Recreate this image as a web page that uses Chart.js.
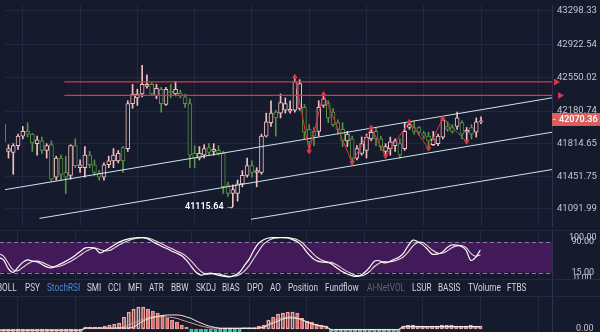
<!DOCTYPE html>
<html>
<head>
<meta charset="utf-8">
<script src="https://cdn.jsdelivr.net/npm/chart.js@4.4.1/dist/chart.umd.min.js"></script>
<style>
  html, body { margin: 0; padding: 0; }
  body { width: 600px; height: 332px; overflow: hidden; position: relative; background: #151a2c; font-family: Roboto, "Noto Sans", sans-serif; }
  canvas { position: absolute; left: 0; }
  #mainChart { top: 0; }
  #stochChart { top: 231px; }
  #macdChart { top: 297px; }
  .hline { position: absolute; left: 0; width: 600px; height: 1px; background: #232944; }
  .vline { position: absolute; left: 552px; top: 280px; width: 1px; height: 17px; background: #2c3250; }
  #tabs span { position: absolute; top: 282px; font-size: 10px; line-height: 12px; color: #d3d6e0; transform: scaleX(0.82); transform-origin: left center; white-space: nowrap; }
  #tabs .on { color: #4f86e0; }
  #tabs .dim { color: #5d6277; }
</style>
</head>
<body>
<canvas id="mainChart" width="600" height="231"></canvas>
<div class="hline" style="top:230px"></div>
<canvas id="stochChart" width="600" height="49"></canvas>
<div class="hline" style="top:279px"></div>
<div id="tabs"></div>
<div class="vline"></div>
<div class="hline" style="top:296px"></div>
<canvas id="macdChart" width="600" height="60"></canvas>
<script>
// candles (index 0 is the half-hidden one on the left edge)
const opens = [42030, 41731, 41721, 41795, 41902, 41955, 41923, 41817, 41849, 41742,
  41806, 41444, 41657, 41497, 41465, 41795, 41550, 41550, 41689, 41582,
  41486, 41444, 41582, 41625, 41625, 41774, 41763, 42264, 42328, 42371,
  42456, 42478, 42350, 42424, 42254, 42403, 42371, 42382, 42339, 42264,
  41710, 41657, 41689, 41774, 41731, 41742, 41710, 41358, 41262, 41262,
  41369, 41465, 41572, 41497, 41497, 41902, 42051, 42168, 42158, 42190,
  42179, 42190, 42211, 42222, 41977, 41955, 41955, 42243, 42264, 42168,
  42051, 41977, 41849, 41870, 41657, 41710, 41742, 41870, 41955, 41870,
  41731, 41763, 41795, 41817, 41763, 41998, 41998, 41998, 41934, 41902,
  41806, 41817, 41891, 42009, 41998, 42009, 42051, 41945, 41998, 41945,
  42062];
const highs = [42062, 41806, 41817, 41923, 42009, 42051, 41934, 41902, 41891, 41817,
  41849, 41678, 41689, 41678, 41806, 41870, 41636, 41785, 41731, 41636,
  41518, 41604, 41678, 41763, 41742, 41785, 42296, 42478, 42424, 42691,
  42584, 42499, 42478, 42446, 42446, 42478, 42510, 42414, 42371, 42318,
  41795, 41785, 41806, 41817, 41817, 41795, 41731, 41390, 41358, 41412,
  41518, 41657, 41625, 41550, 41923, 42158, 42296, 42190, 42371, 42328,
  42296, 42563, 42531, 42254, 42030, 41998, 42296, 42371, 42296, 42211,
  42083, 42051, 41955, 41902, 41795, 41891, 41923, 41998, 41998, 41902,
  41817, 41891, 41870, 41870, 42051, 42062, 42073, 42009, 41955, 41945,
  41955, 41923, 42115, 42062, 42030, 42168, 42073, 41998, 42030, 42104,
  42115];
const lows = [41657, 41657, 41476, 41753, 41870, 41891, 41731, 41689, 41710, 41657,
  41401, 41412, 41412, 41262, 41422, 41550, 41497, 41444, 41550, 41465,
  41412, 41412, 41550, 41550, 41604, 41497, 41731, 42211, 42243, 42339,
  42435, 42350, 42318, 42168, 42243, 42328, 42350, 42328, 42222, 41550,
  41550, 41636, 41657, 41689, 41689, 41689, 41262, 41230, 41115.64, 41177,
  41337, 41444, 41444, 41337, 41476, 41891, 42009, 41902, 42104, 42158,
  42158, 42168, 42190, 41870, 41742, 41795, 41902, 42222, 42051, 42009,
  41923, 41785, 41785, 41604, 41636, 41689, 41657, 41849, 41795, 41742,
  41678, 41689, 41731, 41657, 41742, 41977, 41923, 41913, 41870, 41785,
  41795, 41795, 41870, 41955, 41934, 41977, 41870, 41849, 41870, 41891,
  42041];
const closes = [41838, 41763, 41795, 41902, 41955, 41923, 41827, 41859, 41742, 41795,
  41422, 41657, 41476, 41444, 41795, 41572, 41582, 41689, 41582, 41497,
  41444, 41582, 41625, 41689, 41710, 41625, 42264, 42371, 42371, 42478,
  42478, 42371, 42435, 42264, 42424, 42382, 42424, 42350, 42264, 41689,
  41657, 41710, 41763, 41721, 41753, 41710, 41337, 41262, 41305, 41369,
  41465, 41572, 41497, 41518, 41902, 42062, 42158, 42104, 42275, 42264,
  42200, 42510, 42488, 41945, 41838, 41902, 42222, 42318, 42104, 42030,
  41977, 41849, 41923, 41657, 41763, 41817, 41891, 41945, 41870, 41785,
  41785, 41838, 41849, 41689, 41955, 42030, 41955, 41945, 41902, 41849,
  41870, 41902, 42083, 41977, 41955, 42104, 41923, 41966, 41923, 42062,
  42070.36];

const priceTicks = [43298.33, 42922.54, 42550.02, 42180.74, 41814.65, 41451.75, 41091.99];
const lastPrice = 42070.36;
const lowIndex = 48;
const lowPrice = 41115.64;

// drawn objects, in (candle index, price)
const levels = [42505, 42355];
const levelStart = 12.7;
const channels = [
  [[0.27, 41305], [114.87, 42328]],
  [[7.5, 40985], [114.87, 41945]],
  [[51.8, 40975], [114.87, 41529]]
];
const zigzagIdx = [61, 64, 67, 73, 77, 80, 85, 89, 92, 97];
const zigzagPrice = [42563, 41731, 42371, 41604, 41998, 41678, 42062, 41763, 42104, 41838];

// StochRSI
const stochK = [52, 46, 25, 16, 28, 40, 46, 43, 41, 35, 29,
  27, 32, 37, 43, 50, 58, 67, 75, 76, 74,
  63, 68, 75, 82, 89, 94, 97, 99, 100, 100,
  97, 90, 84, 78, 73, 67, 62, 56, 45, 30,
  16, 9, 12, 14, 11, 8, 6, 5, 9, 16,
  32, 48, 70, 87, 95, 99, 100, 100, 100, 99,
  95, 90, 80, 64, 52, 44, 41, 40, 37, 28,
  20, 14, 9, 6, 8, 16, 28, 43, 44, 39,
  41, 47, 52, 62, 80, 94, 90, 83, 72, 60,
  60, 64, 75, 82, 82, 79, 70, 45, 52, 70];
const stochD = [62, 55, 38, 22, 20, 28, 36, 42, 43, 40, 35,
  30, 29, 32, 37, 43, 50, 58, 66, 72, 75,
  71, 68, 69, 75, 82, 88, 93, 97, 99, 100,
  99, 95, 90, 84, 78, 73, 67, 62, 54, 43,
  30, 18, 12, 12, 13, 11, 8, 6, 7, 10,
  19, 32, 50, 68, 84, 93, 98, 100, 100, 100,
  98, 95, 88, 76, 64, 53, 46, 42, 40, 35,
  28, 20, 14, 9, 7, 10, 18, 30, 38, 42,
  41, 43, 47, 53, 65, 80, 88, 88, 80, 70,
  63, 62, 67, 75, 80, 81, 76, 62, 55, 58];
const stochTicks = [0, 15, 90, 100];
const stochBand = [15, 90];

// MACD
const macdHist = [-3, -3, -3, -3, -3, -3, -3, -3, -3, -3, -3, -3, -3, -3, -3, -3, -3, -3,
  2, 2, 2,
  2, 3, 4, 5, 6, 12, 17, 20, 22, 22, 20, 18, 16, 14, 11, 9, 7, 4, 2,
  -3, -3, -3, -3, -3, -3, -3, -3, -3, -3, -3,
  1.5, 1.5, 1.5,
  3, 4, 9, 12, 15, 16, 17, 17, 16, 10.6, 8, 7, 5, 4, 3,
  -3, -3, -3, -3, -3, -3, -3, -3, -3, -3, -3, -3, -3, -3, -3,
  3, 4, 4, 3, 3, 2, 3, 3, 4, 4, 4, 3, 3, 3, 4, 3, 3];
const macdDif = [-1, -1, -1, -1, -1, -1, -1, -1, -1, -1, -1, -1, -1, -1, -1, -1, -1, -1,
  1, 1, 1, 1, 1, 1, 1, 1, 1,
  1, 2, 5, 8, 10, 11.6, 12.5, 13.5, 14, 14, 14, 13.5, 12, 10.5, 8, 6, 4, 2.5, 1.5,
  0.5, 0.5, 0.5, 0.5, 0.5, 0.5, 0.5, 0.5,
  1, 2, 4, 6, 8, 10, 11, 11, 10.6, 9, 7, 5.5, 4, 3, 2.3,
  -0.5, -0.5, -0.5, -0.5, -0.5, -0.5, -0.5, -0.5, -0.5, -0.5, -0.5, -0.5, -0.5, -0.5, -0.5,
  2.5, 2.5, 2.5, 2.5, 2.5, 2.5, 2.5, 2.5, 2.5, 2.5, 2.5, 2.5, 2.5, 2.5, 2.5, 2.5, 2.5];
const macdDea = [-1.5, -1.5, -1.5, -1.5, -1.5, -1.5, -1.5, -1.5, -1.5, -1.5, -1.5, -1.5, -1.5, -1.5, -1.5, -1.5, -1.5, -1.5,
  0.5, 0.5, 0.5, 0.5, 0.5, 0.5, 0.5,
  1, 2, 4, 6, 8, 10, 11.5, 12, 12.3, 12.3, 12, 11.5, 10.6, 9, 7.5, 6, 4.5, 3, 2,
  1, 1, 1, 1, 1, 1, 1, 1, 1, 1, 1,
  2, 5, 8, 10, 11, 12, 12, 11, 9.5, 7, 5, 3.5, 2.5, 2,
  -1, -1, -1, -1, -1, -1, -1, -1, -1, -1, -1, -1, -1, -1, -1,
  1.8, 1.8, 1.8, 1.8, 1.8, 1.8, 1.8, 1.8, 1.8, 1.8, 1.8, 1.8, 1.8, 1.8, 1.8, 1.8, 1.8];

const tabNames = ["BOLL", "PSY", "StochRSI", "SMI", "CCI", "MFI", "ATR", "BBW", "SKDJ", "BIAS", "DPO", "AO",
  "Position", "Fundflow", "AI-NetVOL", "LSUR", "BASIS", "TVolume", "FTBS"];
const tabLeft = [-3, 25, 47, 87, 108, 128, 149, 171, 196, 222, 247, 270, 288, 325, 367, 412, 438, 468, 507];

const BG = "#151a2c";
const GRID = "#222843";
const AXIS = "#2c3250";
const TICK = "#c4c7d2";
const UP = "#f4c0c0";
const DOWN = "#58943f";
const LEVEL = "#d23a46";
const xMin = 0.27, xMax = 114.87;
const gridIdx = [4, 16, 28, 40, 52, 64, 76, 88, 100, 112];
const idx = opens.map((_, i) => i);

document.getElementById("tabs").innerHTML = tabNames.map((t, i) => {
  const cls = t === "StochRSI" ? "on" : (t === "AI-NetVOL" ? "dim" : "");
  return `<span class="${cls}" style="left:${tabLeft[i]}px">${t}</span>`;
}).join("");

function xScale() {
  return {
    type: "linear", min: xMin, max: xMax, offset: false,
    afterBuildTicks: s => { s.ticks = gridIdx.map(v => ({ value: v })); },
    ticks: { display: false },
    grid: { color: GRID, drawTicks: false, offset: false },
    border: { display: false }
  };
}

function yScale(min, max, values, fmt, tickOpts) {
  return {
    type: "linear", position: "right", min: min, max: max,
    afterBuildTicks: s => { s.ticks = values.map(v => ({ value: v })); },
    afterFit: s => { s.width = 48; s.paddingTop = 0; s.paddingBottom = 0; },
    ticks: Object.assign({ color: TICK, autoSkip: false, callback: v => fmt(v) }, tickOpts),
    grid: { color: GRID, drawTicks: false },
    border: { display: true, color: AXIS }
  };
}

const baseOptions = {
  responsive: false, animation: false, devicePixelRatio: 1,
  layout: { padding: 0 },
  plugins: { legend: { display: false }, tooltip: { enabled: false } }
};

// ---------- main candle chart ----------
const candleColor = idx.map(i => closes[i] >= opens[i] ? UP : DOWN);

const mainExtras = {
  id: "mainExtras",
  afterDraw(chart) {
    const { ctx, chartArea, scales } = chart;
    ctx.save();
    // arrows at the end of the red levels
    ctx.fillStyle = LEVEL;
    levels.forEach((lv, k) => {
      const y = scales.y.getPixelForValue(lv);
      const x = chartArea.right + 2 + k * 4;
      ctx.beginPath();
      ctx.moveTo(x, y - 3.5); ctx.lineTo(x + 6, y); ctx.lineTo(x, y + 3.5);
      ctx.closePath(); ctx.fill();
    });
    // last price box
    const yp = scales.y.getPixelForValue(lastPrice);
    ctx.fillStyle = "#db605d";
    ctx.fillRect(chartArea.right, yp - 8, 48, 13);
    ctx.fillStyle = "#ffffff";
    ctx.font = "9px Roboto";
    ctx.textBaseline = "middle";
    ctx.textAlign = "left";
    ctx.fillText("-", chartArea.right + 1, yp - 1.5);
    ctx.font = "600 9px Roboto";
    ctx.fillText(lastPrice.toFixed(2), chartArea.right + 7, yp - 1.5);
    // low marker
    const xl = scales.x.getPixelForValue(lowIndex);
    const yl = scales.y.getPixelForValue(lowPrice);
    ctx.font = "600 9px Roboto";
    ctx.textAlign = "right";
    ctx.fillText(lowPrice.toFixed(2) + " \u2192", xl + 2, yl);
    ctx.restore();
  }
};

const lineStyle = (color) => ({ type: "line", borderColor: color, borderWidth: 1, pointRadius: 0, fill: false, order: 1 });

new Chart(document.getElementById("mainChart"), {
  type: "bar",
  data: {
    datasets: [
      {
        label: "wick",
        data: idx.map(i => ({ x: i, y: [lows[i], highs[i]] })),
        backgroundColor: candleColor, barThickness: 1, grouped: false, order: 4
      },
      {
        label: "body",
        data: idx.map(i => ({ x: i, y: [opens[i], closes[i]] })),
        backgroundColor: BG, borderColor: candleColor, borderWidth: 1, borderSkipped: false,
        barThickness: 4, minBarLength: 1, grouped: false, order: 3
      },
      ...channels.map(c => Object.assign(lineStyle("#cde6ee"), {
        data: c.map(p => ({ x: p[0], y: p[1] }))
      })),
      ...levels.map(lv => Object.assign(lineStyle(LEVEL), {
        data: [{ x: levelStart, y: lv }, { x: xMax, y: lv }], borderWidth: 1.3
      })),
      Object.assign(lineStyle("#e0343f"), {
        data: zigzagIdx.map((j, k) => ({ x: j, y: zigzagPrice[k] })),
        pointRadius: 2.5, pointStyle: "triangle",
        pointBackgroundColor: "#e0343f", pointBorderColor: "#e0343f",
        pointRotation: zigzagIdx.map((_, k) => k % 2 === 0 ? 0 : 180),
        order: 0
      })
    ]
  },
  options: Object.assign({}, baseOptions, {
    scales: {
      x: xScale(),
      y: yScale(40900.1, 43362.3, priceTicks, v => v.toFixed(2),
        { font: { family: "Roboto", size: 9.5 }, padding: 5 })
    }
  }),
  plugins: [mainExtras]
});

// ---------- StochRSI ----------
const stochBandPlugin = {
  id: "stochBand",
  beforeDatasetsDraw(chart) {
    const { ctx, chartArea, scales } = chart;
    const top = scales.y.getPixelForValue(stochBand[1]);
    const bot = scales.y.getPixelForValue(stochBand[0]);
    ctx.save();
    ctx.fillStyle = "#421a59";
    ctx.fillRect(chartArea.left, top, chartArea.right - chartArea.left, bot - top);
    ctx.strokeStyle = "#8c78ab";
    ctx.lineWidth = 1;
    ctx.setLineDash([4, 3]);
    [top, bot].forEach(y => {
      ctx.beginPath();
      ctx.moveTo(chartArea.left, Math.round(y) + 0.5);
      ctx.lineTo(chartArea.right, Math.round(y) + 0.5);
      ctx.stroke();
    });
    ctx.restore();
  }
};

new Chart(document.getElementById("stochChart"), {
  type: "line",
  data: {
    datasets: [
      { data: idx.map(i => ({ x: i, y: stochK[i] })), borderColor: "#ffffff", borderWidth: 1.2, pointRadius: 0, tension: 0.35 },
      { data: idx.map(i => ({ x: i, y: stochD[i] })), borderColor: "#eadada", borderWidth: 1.1, pointRadius: 0, tension: 0.35 }
    ]
  },
  options: Object.assign({}, baseOptions, {
    scales: {
      x: xScale(),
      y: Object.assign(yScale(-2.66, 116, stochTicks, v => v.toFixed(2),
        { font: { family: "Roboto", size: 9 }, padding: 9, crossAlign: "center" }),
        { grid: { display: false } })
    }
  }),
  plugins: [stochBandPlugin]
});

// ---------- MACD ----------
const histBorder = macdHist.map(v => v < 0 ? "#3cc7ae" : "#f0a6a2");
const histFill = macdHist.map((v, i) => {
  if (v < 0) return "rgba(60,199,174,0.35)";
  const prev = i > 0 ? macdHist[i - 1] : 0;
  return v >= prev ? "rgba(0,0,0,0)" : "#e2736c";
});

new Chart(document.getElementById("macdChart"), {
  type: "bar",
  data: {
    datasets: [
      {
        data: idx.map(i => ({ x: i, y: macdHist[i] })),
        backgroundColor: histFill, borderColor: histBorder, borderWidth: 1,
        borderSkipped: false, barThickness: 3.4, grouped: false, order: 3
      },
      { type: "line", data: idx.map(i => ({ x: i, y: macdDea[i] })), borderColor: "#e8a08c", borderWidth: 1, pointRadius: 0, tension: 0.4, order: 2 },
      { type: "line", data: idx.map(i => ({ x: i, y: macdDif[i] })), borderColor: "#f4f0ea", borderWidth: 1, pointRadius: 0, tension: 0.4, order: 1 }
    ]
  },
  options: Object.assign({}, baseOptions, {
    scales: {
      x: xScale(),
      y: Object.assign(yScale(-28, 32, [0], v => v.toFixed(2),
        { font: { family: "Roboto", size: 9 }, padding: 16 }),
        { grid: { display: false } })
    }
  })
});
</script>
</body>
</html>
